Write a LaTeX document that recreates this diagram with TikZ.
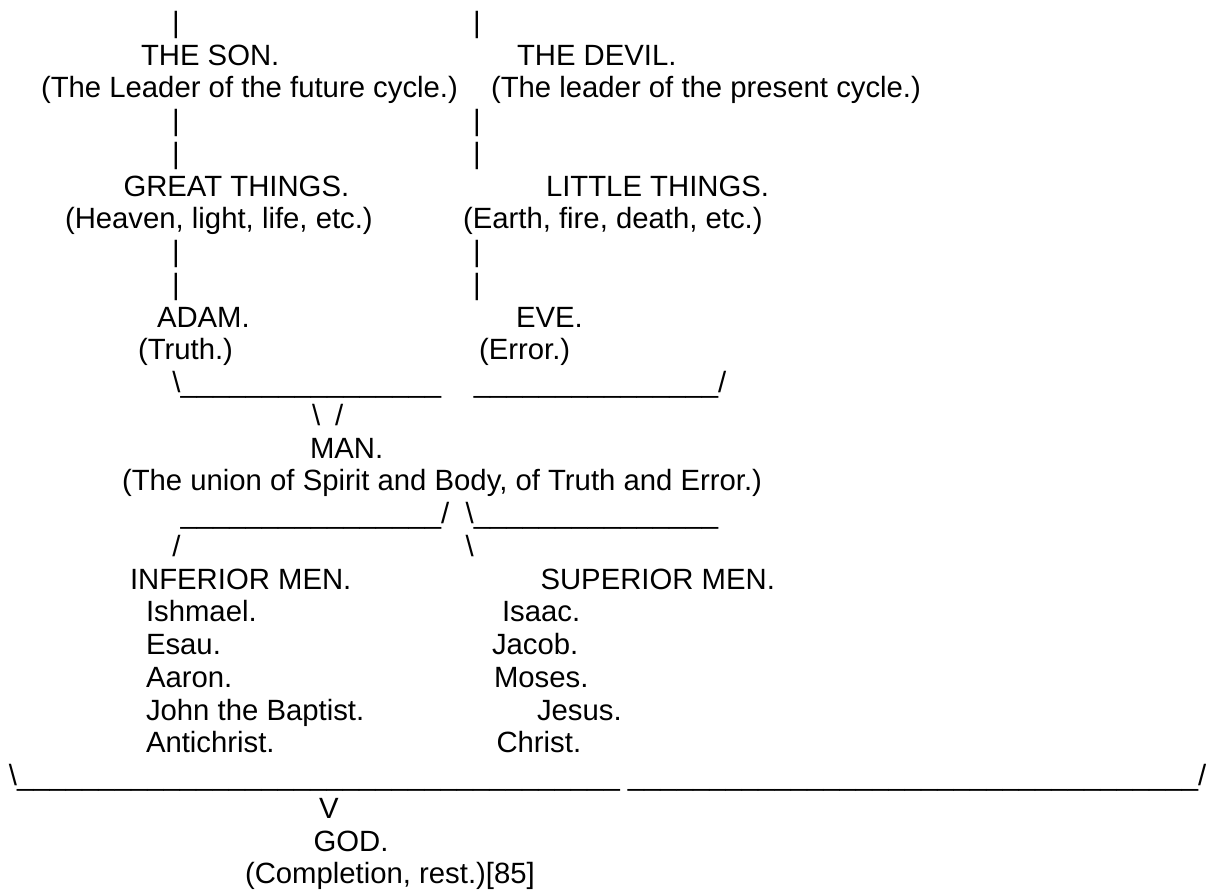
\documentclass[tikz,border=0pt]{standalone}
\usepackage{fontspec}
\setmainfont{Liberation Sans}
\ExplSyntaxOn
\NewDocumentCommand\repchar{mm}{\prg_replicate:nn{#1}{#2}}
\ExplSyntaxOff
\newcommand\uln[1]{\repchar{#1}{\_}}
\tikzset{
  t/.style={anchor=base west, inner sep=0pt, outer sep=0pt, font=\fontsize{29.3pt}{32.75pt}\selectfont},
  bar/.style={t, anchor=base}
}
\begin{document}
\begin{tikzpicture}[x=1pt,y=-1pt]
\useasboundingbox (0,0) rectangle (1206,892);
% row 1
\node[bar] (b1l) at (176,32.3) {|};
\node[bar] (b1r) at (477,32.3) {|};
% row 2-3
\node[t] (son) at (141,65.05) {THE SON.};
\node[t] (devil) at (517,65.05) {THE DEVIL.};
\node[t] (sonx) at (41,97.8) {(The Leader of the future cycle.)};
\node[t] (devilx) at (491,97.8) {(The leader of the present cycle.)};
% rows 4-5
\node[bar] (b4l) at (176,130.55) {|};
\node[bar] (b4r) at (477,130.55) {|};
\node[bar] (b5l) at (176,163.3) {|};
\node[bar] (b5r) at (477,163.3) {|};
% rows 6-7
\node[t] (great) at (123.5,196.05) {GREAT THINGS.};
\node[t] (little) at (546,196.05) {LITTLE THINGS.};
\node[t] (greatx) at (65,228.8) {(Heaven, light, life, etc.)};
\node[t] (littlex) at (463,228.8) {(Earth, fire, death, etc.)};
% rows 8-9
\node[bar] (b8l) at (176,261.55) {|};
\node[bar] (b8r) at (477,261.55) {|};
\node[bar] (b9l) at (176,294.3) {|};
\node[bar] (b9r) at (477,294.3) {|};
% rows 10-11
\node[t] (adam) at (157,327.05) {ADAM.};
\node[t] (eve) at (516,327.05) {EVE.};
\node[t] (adamx) at (138,359.8) {(Truth.)};
\node[t] (evex) at (479,359.8) {(Error.)};
% row 12
\node[t] (j12l) at (172.4,392.55) {\textbackslash\uln{16}};
\node[t] (j12r) at (473.8,392.55) {\uln{15}/};
% row 13
\node[t] (j13l) at (312,425.3) {\textbackslash};
\node[t] (j13r) at (335,425.3) {/};
% rows 14-15
\node[t] (man) at (310,458.05) {MAN.};
\node[t] (manx) at (122,490.8) {(The union of Spirit and Body, of Truth and Error.)};
% row 16
\node[t] (s16l) at (180.5,523.55) {\uln{16}/};
\node[t] (s16r) at (465.6,523.55) {\textbackslash\uln{15}};
% row 17
\node[t] (s17l) at (172.4,556.3) {/};
\node[t] (s17r) at (465.6,556.3) {\textbackslash};
% row 18
\node[t] (inf) at (130,589.05) {INFERIOR MEN.};
\node[t] (sup) at (540.5,589.05) {SUPERIOR MEN.};
% rows 19-23
\node[t] (ishmael) at (146,621.8) {Ishmael.};
\node[t] (esau) at (146,654.55) {Esau.};
\node[t] (aaron) at (146,687.3) {Aaron.};
\node[t] (john) at (146,720.05) {John the Baptist.};
\node[t] (antichrist) at (146,752.8) {Antichrist.};
\node[t] (isaac) at (502,621.8) {Isaac.};
\node[t] (jacob) at (492,654.55) {Jacob.};
\node[t] (moses) at (494,687.3) {Moses.};
\node[t] (jesus) at (537,720.05) {Jesus.};
\node[t] (christ) at (496.5,752.8) {Christ.};
% row 24
\node[t] (g24l) at (8.9,785.55) {\textbackslash\uln{37}};
\node[t] (g24r) at (627.9,785.55) {\uln{35}/};
% rows 25-27
\node[t] (vee) at (319,818.3) {V};
\node[t] (god) at (313.5,851.05) {GOD.};
\node[t] (godx) at (245,883.8) {(Completion, rest.)[85]};
\end{tikzpicture}
\end{document}
